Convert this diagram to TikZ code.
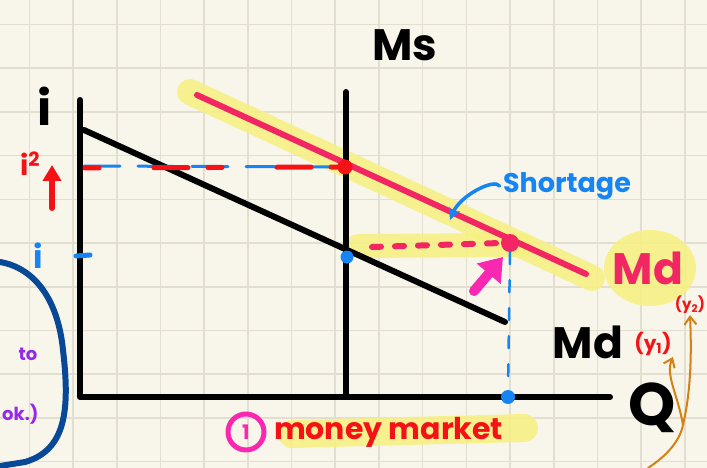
\documentclass[tikz,border=0pt]{standalone}
\usepackage{fontspec}
\setmainfont{Poppins}
\usetikzlibrary{arrows.meta,positioning,calc}
\definecolor{paper}{RGB}{248,246,235}
\definecolor{gridline}{RGB}{226,223,208}
\definecolor{curvepink}{RGB}{242,38,98}
\definecolor{penred}{RGB}{244,18,22}
\definecolor{penblue}{RGB}{22,132,242}
\definecolor{loopnavy}{RGB}{8,72,150}
\definecolor{hilite}{RGB}{246,240,128}
\definecolor{penmagenta}{RGB}{250,40,176}
\definecolor{penorange}{RGB}{212,128,18}
\definecolor{penpurple}{RGB}{150,40,232}
\begin{document}
\begin{tikzpicture}[x=1pt,y=-1pt,line cap=round,line join=round,
  ink/.style={line width=6pt,color=black},
  marker/.style={line width=26pt,color=hilite,opacity=.85},
  dot/.style={circle,inner sep=0pt,minimum size=#1},
  hand/.style={font=\fontsize{#1}{#1}\selectfont\bfseries}]
\clip(0,0)rectangle(707,468);
\fill[paper](0,0)rectangle(707,468);
\foreach \g in {0,...,15}
  \draw[gridline,line width=1.6pt](29.3+43.7*\g,0)--++(0,468);
\foreach \g in {0,...,10}
  \draw[gridline,line width=1.6pt](0,24.6+43.7*\g)--++(707,0);
% axes and curves
\coordinate (ytop) at (80,100);
\coordinate (origin) at (80,397);
\coordinate (xend) at (610,397);
\coordinate (mstop) at (346,92);
\coordinate (msbot) at (346,397);
\coordinate (mdonestart) at (84,130);
\coordinate (mdoneend) at (505,322);
\coordinate (mdtwostart) at (197,95);
\coordinate (mdtwoend) at (586,274);
\draw[marker](190,92)--(592,278);
\draw[marker,line width=24pt](358,246)--(522,245);
\draw[ink](ytop)--(origin)--(xend);
\draw[ink](mstop)--(msbot);
\draw[ink](mdonestart)--(mdoneend);
\draw[line width=6pt,curvepink](mdtwostart)--(mdtwoend);
% equilibrium points
\node[dot=15pt,fill=penred](eqtwo)at(345,167){};
\node[dot=13pt,fill=penblue](eqone)at(347,257){};
\node[dot=18pt,fill=curvepink](shortpt)at(510,243){};
\node[dot=14pt,fill=penblue](qmark)at(508,397){};
\coordinate (itwoaxis) at (85,168);
\coordinate (ioneaxis) at (76,256);
\draw[penblue,line width=3pt,dash pattern=on 36pt off 18pt](84,166)--(eqtwo.west);
\draw[penred,line width=5pt,dash pattern=on 14pt off 55pt on 34pt off 20pt](itwoaxis)--(eqtwo.west);
\draw[penblue,line width=5pt](ioneaxis)--++(14,-1);
\draw[curvepink,line width=6pt,dash pattern=on 9pt off 14pt](372,247)--(shortpt.west);
\draw[penblue,line width=2.5pt,dash pattern=on 12pt off 16pt](shortpt.south)--(qmark.north);
\coordinate (pushfrom) at (474,291);
\draw[penmagenta,line width=10pt,-{Triangle[length=22pt,width=30pt]}](pushfrom)--(503,257);
% labels
\node[hand=48pt](ilabel)at(45,106){i};
\node[hand=44pt](mslabel)at(405,45){Ms};
\node[hand=28pt,penred](itwolabel)at(30,164){i\textsuperscript{2}};
\coordinate (riseto) at (52,165);
\draw[penred,line width=6pt,-{Triangle[length=16pt,width=18pt]}](52,208)--(riseto);
\node[hand=32pt,penblue](ionelabel)at(38,256){i};
\node[hand=27pt,penblue](shortlabel)at(567,186){Shortage};
\coordinate (gapmark) at (450,220);
\draw[penblue,line width=3.5pt,-{Stealth[length=12pt,width=12pt]}](shortlabel.west)
  .. controls (495,178) and (460,195) .. (gapmark);
\fill[hilite,opacity=.85](650,268)ellipse[x radius=46pt,y radius=38pt];
\node[hand=44pt,curvepink](mdtwolabel)at(648,268){Md};
\node[hand=15pt,penred,inner sep=1pt](ytwolabel)at(690,305){(y\textsubscript{2})};
\node[hand=44pt,inner sep=1pt](mdonelabel)at(588,342){Md};
\node[hand=20pt,penred,inner sep=1pt](yonelabel)at(653,344){(y\textsubscript{1})};
\node[hand=60pt](qlabel)at(652,408){Q};
\coordinate (fork) at (683,425);
\draw[penorange,line width=2pt,-{Straight Barb[length=8pt,width=12pt]}](648,468)
  .. controls (668,455) and (680,440) .. (fork) .. controls (690,395) and (692,360) .. (ytwolabel.south);
\draw[penorange,line width=2pt,-{Straight Barb[length=8pt,width=12pt]}](fork)
  .. controls (678,395) and (665,375) .. (yonelabel.south east);
% left loop
\draw[loopnavy,line width=6pt](0,262) .. controls (35,268) and (58,300) .. (63,350)
  .. controls (70,410) and (66,450) .. (25,462) -- (0,466);
\node[hand=18pt,penpurple](tolabel)at(28,354){to};
\node[hand=18pt,penpurple,anchor=west,inner sep=1pt](oklabel)at(1,414){ok.)};
% caption
\draw[marker,line width=28pt](292,434)--(524,428);
\node[dot=36pt,draw=penmagenta,line width=5pt,hand=20pt,text=penmagenta](stepone)at(246,432){1};
\node[hand=30pt,penred,right=4pt of stepone](caption){money market};
\end{tikzpicture}
\end{document}
